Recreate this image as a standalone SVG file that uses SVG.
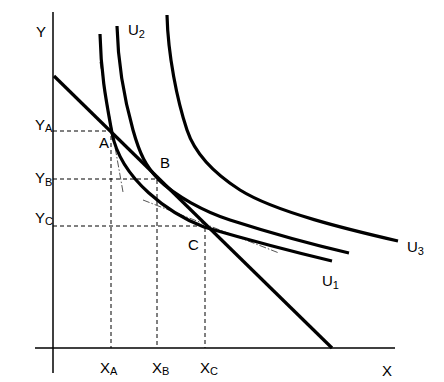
<svg xmlns="http://www.w3.org/2000/svg" width="444" height="382" viewBox="0 0 444 382">
<style>
.ax{stroke:#000;stroke-width:1.5;fill:none}
.dash{stroke:#000;stroke-width:1;stroke-dasharray:4 3;fill:none}
.tan{stroke:#555;stroke-width:1;stroke-dasharray:7 2 1.5 2;fill:none}
.crv{stroke:#000;stroke-width:3.2;fill:none;stroke-linecap:butt}
text{font-family:"Liberation Sans",Arial,sans-serif;font-size:15px;fill:#000}
.sub{font-size:11px}
</style>
<rect width="444" height="382" fill="#fff"/>
<g id="connectors">
<line class="ax" x1="53" y1="12" x2="53" y2="373"/>
<line class="ax" x1="35" y1="348" x2="395" y2="348"/>
<path class="dash" d="M53 131H111V348M53 179H157V348M53 226H205V348"/>
<line class="tan" x1="100" y1="62" x2="123" y2="192"/>
<line class="tan" x1="143" y1="200" x2="279" y2="253"/>
<line class="crv" x1="54" y1="76" x2="332" y2="348"/>
</g>
<g id="U1"><path class="crv" d="M100 34C101 75 106 100 112 133C121 180 170 214 204 227C228 234 290 251 332 261"/></g>
<g id="U2"><path class="crv" d="M117 26C118 65 126 105 133 130C140 155 146 166 158 179C175 196 205 212 230 220C260 229.6 310 244 349 253"/></g>
<g id="U3"><path class="crv" d="M167 15C168 55 177 100 187 130C195 154 215 174 240 190C275 212 350 230 398 241"/></g>
<g id="labels">
<text x="36" y="37">Y</text>
<text x="128" y="35">U<tspan class="sub" dy="3">2</tspan></text>
<text x="35" y="130">Y<tspan class="sub" dy="2">A</tspan></text>
<text x="99" y="148">A</text>
<text x="160" y="168">B</text>
<text x="35" y="183">Y<tspan class="sub" dy="3">B</tspan></text>
<text x="35" y="223">Y<tspan class="sub" dy="2">C</tspan></text>
<text x="188" y="250">C</text>
<text x="322" y="286">U<tspan class="sub" dy="3">1</tspan></text>
<text x="407" y="252">U<tspan class="sub" dy="3">3</tspan></text>
<text x="100" y="373">X<tspan class="sub" dy="2">A</tspan></text>
<text x="152" y="373">X<tspan class="sub" dy="2">B</tspan></text>
<text x="200" y="373">X<tspan class="sub" dy="2">C</tspan></text>
<text x="382" y="376">X</text>
</g>
</svg>
